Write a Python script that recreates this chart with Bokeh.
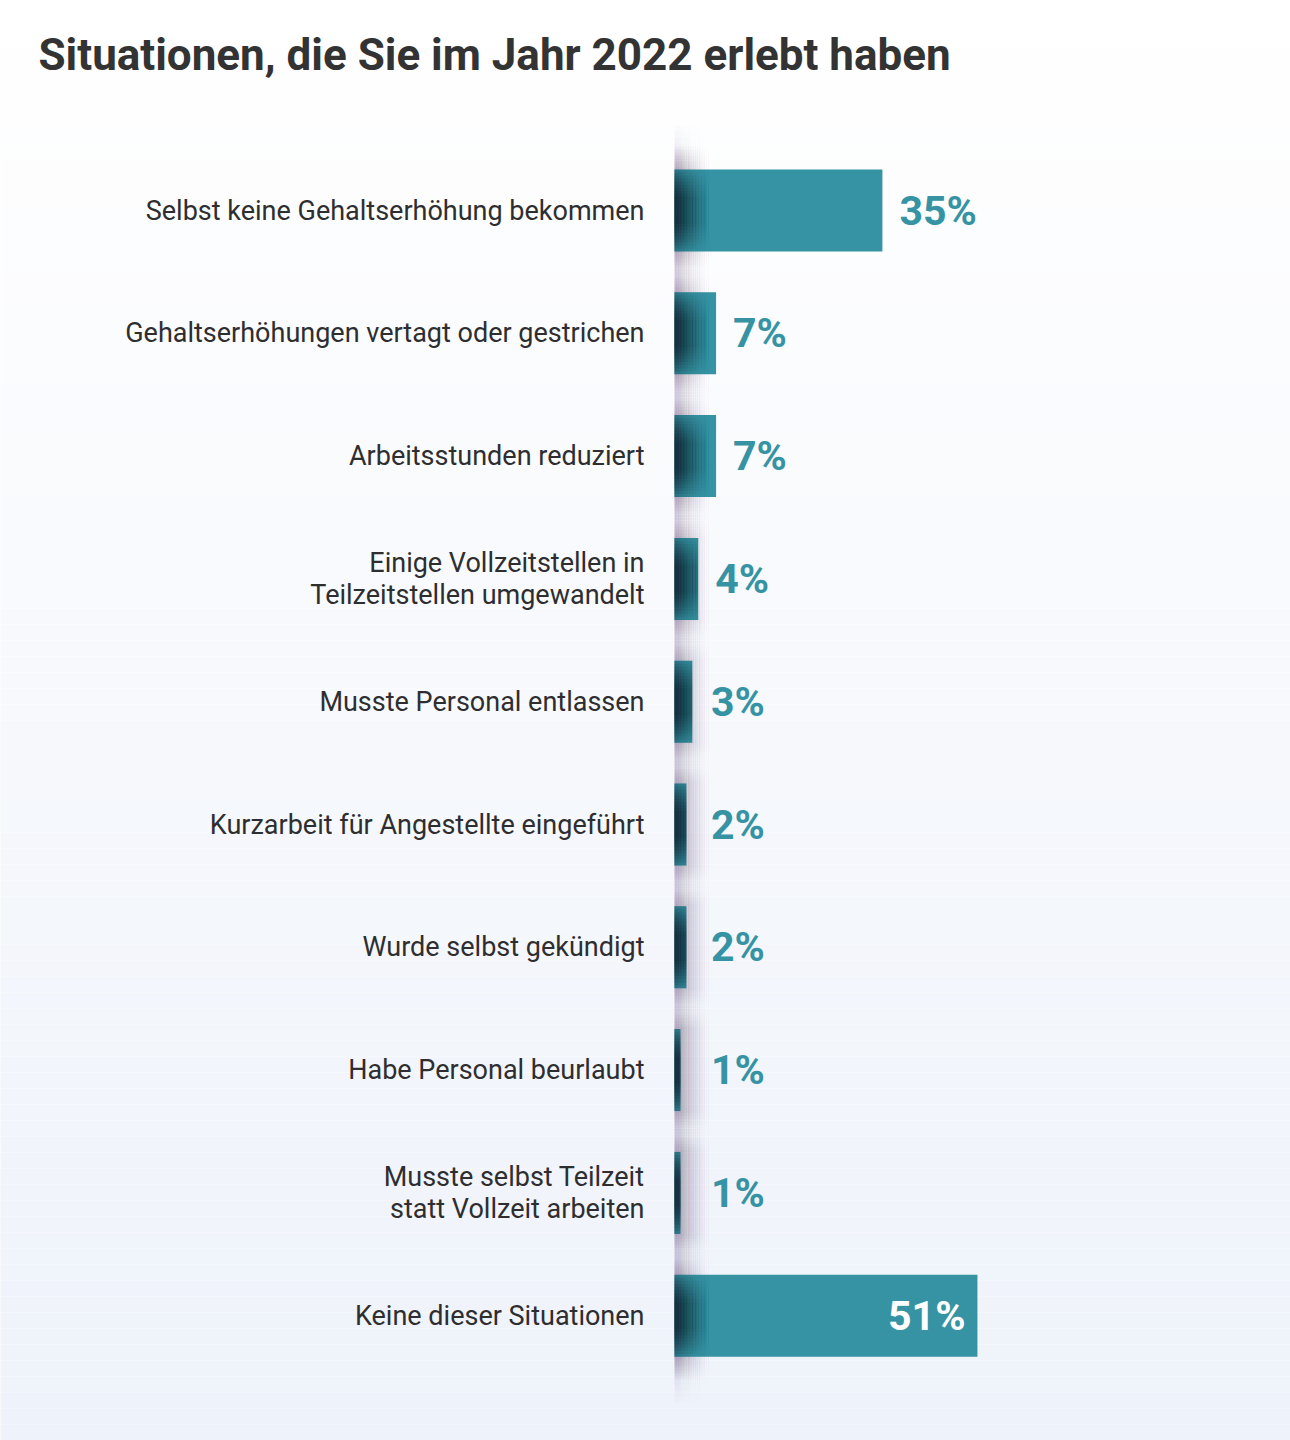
import numpy as np
from bokeh.plotting import figure
from bokeh.models import Range1d, Label
from bokeh.core.properties import value
from bokeh.embed import file_html
from bokeh.resources import INLINE

# ---------------- data ----------------
title_text = "Situationen, die Sie im Jahr 2022 erlebt haben"
categories = [
    "Selbst keine Gehaltserhöhung bekommen",
    "Gehaltserhöhungen vertagt oder gestrichen",
    "Arbeitsstunden reduziert",
    "Einige Vollzeitstellen in\nTeilzeitstellen umgewandelt",
    "Musste Personal entlassen",
    "Kurzarbeit für Angestellte eingeführt",
    "Wurde selbst gekündigt",
    "Habe Personal beurlaubt",
    "Musste selbst Teilzeit\nstatt Vollzeit arbeiten",
    "Keine dieser Situationen",
]
values = [35, 7, 7, 4, 3, 2, 2, 1, 1, 51]
value_labels = [f"{v}%" for v in values]

# ---------------- layout ----------------
W, H = 1290, 1440
BASE_PX = 674        # page x of the 0 % line
PX_PER_PCT = 5.94
ROW0_PX = 210
ROW_STEP = 122.8
BAR_PX = 82
MIN_LABEL_ANCHOR = 3.3   # outside labels never start closer to the axis than this

def sx(px):
    return (px - BASE_PX) / PX_PER_PCT

def sy(py):
    return (py - ROW0_PX) / ROW_STEP

TEAL = "#3593a3"
idx = list(range(len(categories)))

p = figure(width=W, height=H, output_backend="svg", toolbar_location=None,
           x_range=Range1d(sx(0), sx(W)), y_range=Range1d(sy(H), sy(0)),
           x_axis_location=None, y_axis_location=None, min_border=0)
p.grid.visible = False
p.outline_line_color = None
p.background_fill_color = "#ffffff"
p.border_fill_color = "#ffffff"

# background vertical gradient (white -> light blue-grey)
nb = 90
edges = np.linspace(0, H, nb + 1)
c0 = np.array([255, 255, 255])
c1 = np.array([238, 242, 250])
cols = []
for k in range(nb):
    t = (k + 0.5) / nb
    c = (c0 * (1 - t) + c1 * t).round().astype(int)
    cols.append("#%02x%02x%02x" % tuple(c))
p.quad(left=sx(-10), right=sx(W + 10), top=[sy(e) for e in edges[:-1]],
       bottom=[sy(e) for e in edges[1:]], fill_color=cols, line_color=None)

# soft shadow band along the baseline (feathered at both ends)
L, R, T, B, A = [], [], [], [], []
ns = 18
for k in range(8):
    for i in range(ns):
        L.append(sx(BASE_PX + 2 * i)); R.append(sx(BASE_PX + 2 * i + 2))
        T.append(sy(125 + 6 * k)); B.append(sy(1402 - 6 * k))
        A.append(0.018 * (1 - i / ns) ** 2)
p.quad(left=L, right=R, top=T, bottom=B, fill_color="#5d4a66", fill_alpha=A, line_color=None)

# blurred shadow around each bar near the baseline
L, R, T, B, A = [], [], [], [], []
for j in idx:
    for k in range(8):
        half = (BAR_PX / 2 + 2 + 3 * k) / ROW_STEP
        for i in range(18):
            L.append(sx(BASE_PX + 2.2 * i)); R.append(sx(BASE_PX + 2.2 * i + 2.2))
            T.append(j - half); B.append(j + half)
            A.append(0.045 * (1 - i / 18) ** 1.5)
p.quad(left=L, right=R, top=T, bottom=B, fill_color="#5a3f60", fill_alpha=A, line_color=None)

# bars
bh = BAR_PX / ROW_STEP
p.hbar(y=idx, left=0, right=values, height=bh, fill_color=TEAL, line_color=None)

# dark, radial-ish edge on the left of each bar
L, R, Y, Hh, A = [], [], [], [], []
step = 1.5
nstrip = 26
for j, v in zip(idx, values):
    wpx = v * PX_PER_PCT
    for m in range(10):
        base_a = 0.30 if m == 0 else 0.14
        for i in range(nstrip):
            lpx = i * step
            if lpx >= wpx:
                break
            rpx = min(lpx + step, wpx)
            L.append(lpx / PX_PER_PCT); R.append(rpx / PX_PER_PCT); Y.append(j)
            Hh.append(bh * (1 - 0.075 * m))
            A.append(base_a * (1 - i / nstrip) ** 2.0)
p.hbar(y=Y, left=L, right=R, height=Hh, fill_color="#0f1c2a", fill_alpha=A, line_color=None)

# category labels
p.text(x=sx(644), y=idx, text=categories, text_align="right", text_baseline="middle",
       text_font=value("Roboto"), text_font_size="27px", text_color="#2e2e30",
       text_line_height=1.0)

# value labels
out_i = [j for j in idx if values[j] < 45]
in_i = [j for j in idx if values[j] >= 45]
p.text(x=[max(values[j], MIN_LABEL_ANCHOR) for j in out_i], y=out_i,
       text=[value_labels[j] for j in out_i],
       x_offset=17, text_align="left", text_baseline="middle",
       text_font=value("Roboto"), text_font_style="bold", text_font_size="41px",
       text_color=TEAL)
p.text(x=[values[j] for j in in_i], y=in_i, text=[value_labels[j] for j in in_i],
       x_offset=-12, text_align="right", text_baseline="middle",
       text_font=value("Roboto"), text_font_style="bold", text_font_size="41px",
       text_color="#ffffff")

# title
p.add_layout(Label(x=sx(38), y=sy(54), text=title_text, text_font="Roboto",
                   text_font_style="bold", text_font_size="44px", text_color="#333333",
                   text_baseline="alphabetic", text_align="left"))

open("out.html", "w").write(file_html(p, INLINE))
